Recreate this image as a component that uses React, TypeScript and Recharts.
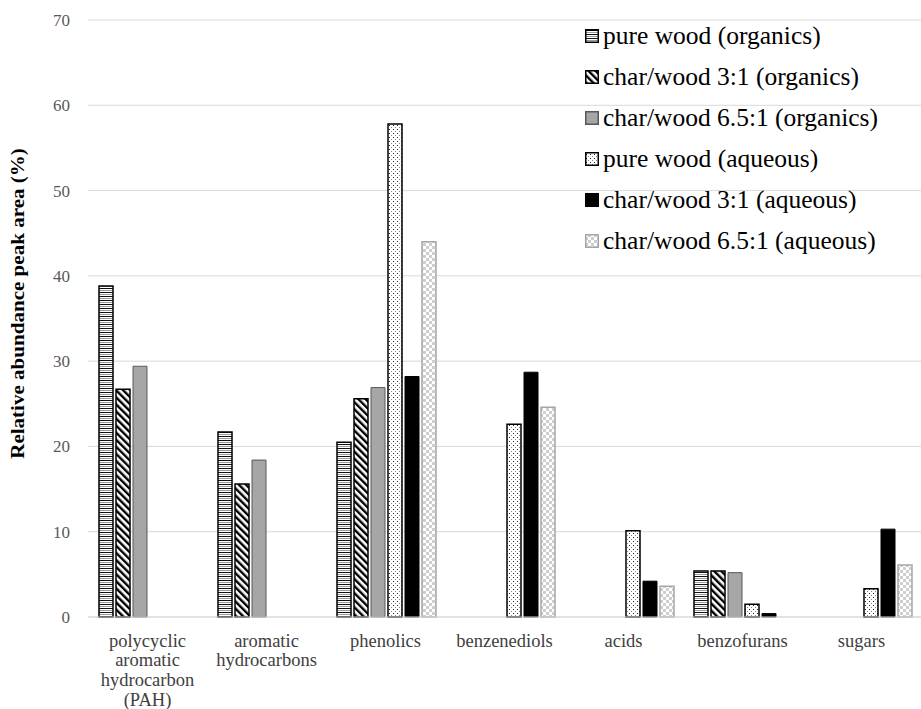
import React from "react";
import { BarChart, Bar, XAxis, YAxis, CartesianGrid, Legend, Label } from "recharts";

const categories = ["polycyclic aromatic hydrocarbon (PAH)", "aromatic hydrocarbons", "phenolics", "benzenediols", "acids", "benzofurans", "sugars"];
const categoryLines = [
  ["polycyclic", "aromatic", "hydrocarbon", "(PAH)"],
  ["aromatic", "hydrocarbons"],
  ["phenolics"],
  ["benzenediols"],
  ["acids"],
  ["benzofurans"],
  ["sugars"],
];
const pureWoodOrganics = [38.8, 21.7, 20.5, null, null, 5.4, null];
const char3Organics = [26.7, 15.6, 25.6, null, null, 5.4, null];
const char65Organics = [29.4, 18.4, 26.9, null, null, 5.2, null];
const pureWoodAqueous = [null, null, 57.8, 22.6, 10.1, 1.5, 3.3];
const char3Aqueous = [null, null, 28.2, 28.7, 4.2, 0.4, 10.3];
const char65Aqueous = [null, null, 44.0, 24.6, 3.6, null, 6.1];
const yTicks = [0, 10, 20, 30, 40, 50, 60, 70];

const seriesNames = [
  "pure wood (organics)",
  "char/wood 3:1 (organics)",
  "char/wood 6.5:1 (organics)",
  "pure wood (aqueous)",
  "char/wood 3:1 (aqueous)",
  "char/wood 6.5:1 (aqueous)",
];

const seriesStyles = [
  { key: "pwo", fill: "url(#hstripe)", stroke: "#000", sw: 1.5 },
  { key: "c3o", fill: "url(#diag)", stroke: "#000", sw: 1.5 },
  { key: "c65o", fill: "#a6a6a6", stroke: "#595959", sw: 1 },
  { key: "pwa", fill: "url(#dots)", stroke: "#000", sw: 1.5 },
  { key: "c3a", fill: "#000", stroke: "#000", sw: 1 },
  { key: "c65a", fill: "url(#checker)", stroke: "#a6a6a6", sw: 1.5 },
];

const data = categories.map((c, i) => ({
  name: c,
  pwo: pureWoodOrganics[i],
  c3o: char3Organics[i],
  c65o: char65Organics[i],
  pwa: pureWoodAqueous[i],
  c3a: char3Aqueous[i],
  c65a: char65Aqueous[i],
}));

const FONT = "Liberation Serif";

const XTick = (props: any) => {
  const { x, y, payload } = props;
  const lines = categoryLines[payload.index] || [payload.value];
  return (
    <text x={x} y={y} textAnchor="middle" fontSize={18.5} fill="#404040" fontFamily={FONT}>
      {lines.map((l: string, i: number) => (
        <tspan key={i} x={x} dy={i === 0 ? 21.5 : 19.7}>
          {l}
        </tspan>
      ))}
    </text>
  );
};

const renderLegend = () => (
  <svg width={330} height={250} style={{ display: "block" }}>
    {seriesNames.map((n, i) => (
      <g key={n} transform={`translate(0,${i * 41})`}>
        <rect
          x={0.75}
          y={15.75}
          width={12.5}
          height={12.5}
          fill={seriesStyles[i].fill}
          stroke={seriesStyles[i].stroke}
          strokeWidth={1.5}
        />
        <text x={18} y={30} fontSize={25.5} fill="#000" fontFamily={FONT}>
          {n}
        </text>
      </g>
    ))}
  </svg>
);

const YLabel = (props: any) => {
  const vb = props.viewBox || { x: 0, y: 20, width: 88, height: 597 };
  const cx = vb.x + 18;
  const cy = vb.y + vb.height / 2 - 15;
  return (
    <text
      transform={`translate(${cx},${cy}) rotate(-90) scale(1.17,1)`}
      textAnchor="middle"
      dominantBaseline="central"
      fontSize={18}
      fontWeight="bold"
      fill="#000"
      fontFamily={FONT}
    >
      Relative abundance peak area (%)
    </text>
  );
};

export default function App() {
  return (
    <div style={{ position: "absolute", left: 0, top: 0, width: 921, height: 709, background: "#fff" }}>
      <svg width={0} height={0} style={{ position: "absolute" }}>
        <defs>
          <pattern id="hstripe" patternUnits="userSpaceOnUse" width={4} height={4}>
            <rect width={4} height={4} fill="#fff" />
            <rect y={0} width={4} height={1} fill="#111" />
            <rect y={2} width={4} height={1} fill="#999" />
          </pattern>
          <pattern id="diag" patternUnits="userSpaceOnUse" width={5} height={5} patternTransform="rotate(-45)">
            <rect width={5} height={5} fill="#fff" />
            <rect x={0} width={2.4} height={5} fill="#000" />
          </pattern>
          <pattern id="dots" patternUnits="userSpaceOnUse" width={4} height={4}>
            <rect width={4} height={4} fill="#fff" />
            <rect x={1} y={1} width={1} height={1} fill="#222" />
            <rect x={3} y={3} width={1} height={1} fill="#888" />
          </pattern>
          <pattern id="checker" patternUnits="userSpaceOnUse" width={6} height={6}>
            <rect width={6} height={6} fill="#fff" />
            <rect x={0} y={0} width={3} height={3} fill="#cfcfcf" />
            <rect x={3} y={3} width={3} height={3} fill="#cfcfcf" />
          </pattern>
        </defs>
      </svg>
      <BarChart
        width={921}
        height={709}
        data={data}
        margin={{ top: 20, right: 0, left: 0, bottom: 0 }}
        barCategoryGap={11}
        barGap={3}
        style={{ fontFamily: FONT }}
      >
        <CartesianGrid vertical={false} stroke="#d9d9d9" strokeWidth={1} />
        <XAxis
          dataKey="name"
          height={92}
          tick={<XTick />}
          tickLine={false}
          axisLine={{ stroke: "#d9d9d9" }}
          interval={0}
        />
        <YAxis
          width={88}
          domain={[0, 70]}
          ticks={yTicks}
          tickLine={false}
          axisLine={false}
          tickMargin={12}
          tick={{ fontSize: 17, fill: "#595959", fontFamily: FONT }}
        >
          <Label content={<YLabel />} />
        </YAxis>
        <Legend
          layout="horizontal"
          verticalAlign="middle"
          align="center"
          content={renderLegend}
          wrapperStyle={{ position: "absolute", left: 585, top: 14, width: 330 }}
        />
        {seriesStyles.map((s, i) => (
          <Bar
            key={s.key}
            dataKey={s.key}
            name={seriesNames[i]}
            fill={s.fill}
            stroke={s.stroke}
            strokeWidth={s.sw}
            isAnimationActive={false}
          />
        ))}
      </BarChart>
    </div>
  );
}
